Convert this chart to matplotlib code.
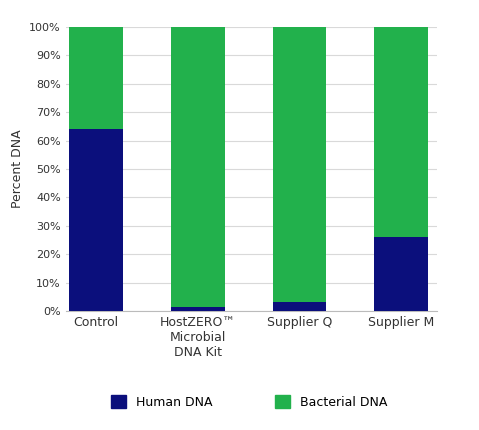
import matplotlib
matplotlib.use("Agg")
import matplotlib.pyplot as plt
import numpy as np

categories = ["Control", "HostZERO™\nMicrobial\nDNA Kit", "Supplier Q", "Supplier M"]
human = [64, 1.5, 3, 26]
bacterial = [36, 98.5, 97, 74]

navy = "#0b0f7c"
green = "#22b14c"

fig = plt.figure(figsize=(4.79, 4.30), dpi=100)
ax = fig.add_axes([0.137, 0.277, 0.775, 0.66])
x = np.arange(len(categories))
ax.bar(x, human, width=0.53, color=navy, zorder=3)
ax.bar(x, bacterial, bottom=human, width=0.53, color=green, zorder=3)
ax.set_ylim(0, 100)
ax.set_xlim(-0.3, 3.35)
ax.set_yticks(range(0, 101, 10))
ax.set_yticklabels([f"{v}%" for v in range(0, 101, 10)], fontsize=8, color="#333333")
ax.set_xticks(x)
ax.set_xticklabels(categories, fontsize=9, color="#333333", va="top")
ax.tick_params(length=0)
ax.grid(axis="y", color="#d9d9d9", lw=0.8, zorder=0)
for s in ["top", "right", "left"]:
    ax.spines[s].set_visible(False)
ax.spines["bottom"].set_color("#bbbbbb")
ax.set_ylabel("Percent DNA", fontsize=9, color="#333333")

from matplotlib.patches import Patch
fig.legend(handles=[Patch(color=navy, label="Human DNA"), Patch(color=green, label="Bacterial DNA")],
           loc="center", bbox_to_anchor=(0.52, 0.065), ncol=2, frameon=False,
           fontsize=9, handlelength=1.2, handleheight=1.2, columnspacing=5)
fig.savefig("out.png", dpi=100)
